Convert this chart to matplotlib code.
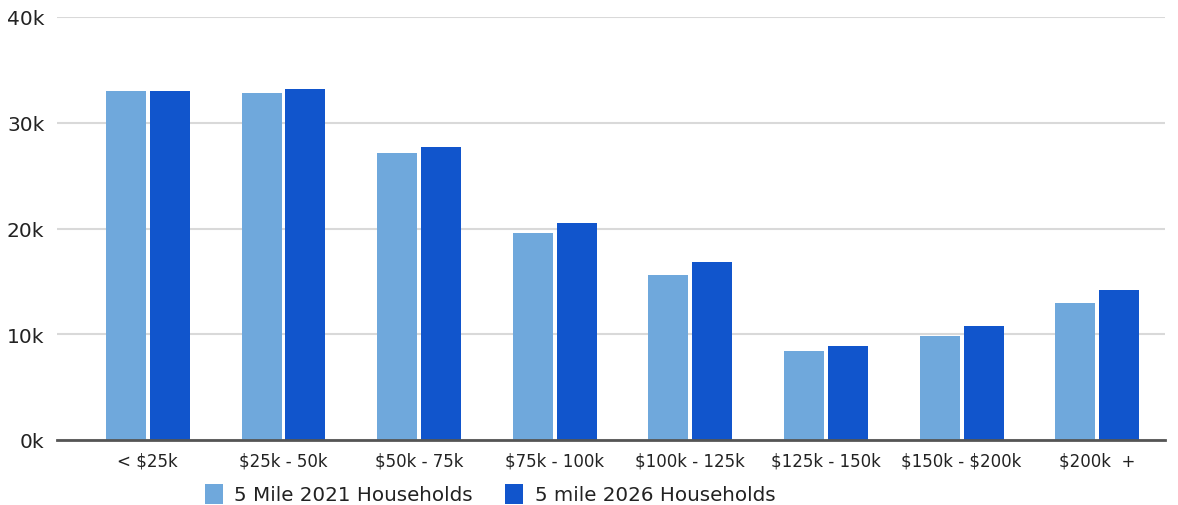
import matplotlib
matplotlib.use("Agg")
import matplotlib.pyplot as plt
import numpy as np

plt.rcParams["text.parse_math"] = False

categories = ["< $25k", "$25k - 50k", "$50k - 75k", "$75k - 100k",
              "$100k - 125k", "$125k - 150k", "$150k - $200k", "$200k  +"]
hh_2021 = [33000, 32800, 27100, 19600, 15600, 8400, 9800, 13000]
hh_2026 = [33000, 33200, 27700, 20500, 16800, 8900, 10800, 14200]
series_names = ["5 Mile 2021 Households", "5 mile 2026 Households"]
yticks = [0, 10000, 20000, 30000, 40000]
ytick_labels = ["0k", "10k", "20k", "30k", "40k"]

c_light = "#6FA8DC"
c_dark = "#1155CC"

fig = plt.figure(figsize=(11.78, 5.06), dpi=100)
ax = fig.add_axes([57/1178, 65/506, (1165-57)/1178, (441-18)/506])

x = np.arange(len(categories))
w = 0.295
off = 0.162
b1 = ax.bar(x - off, hh_2021, width=w, color=c_light, label=series_names[0], zorder=3)
b2 = ax.bar(x + off, hh_2026, width=w, color=c_dark, label=series_names[1], zorder=3)

ax.set_xlim(-0.67, 7.5)
ax.set_ylim(0, 40000)
ax.set_yticks(yticks)
ax.set_yticklabels(ytick_labels, fontsize=14.5, color="#222222")
ax.set_xticks(x)
ax.set_xticklabels(categories, fontsize=12, color="#222222")
ax.tick_params(axis="both", length=0)
ax.tick_params(axis="y", pad=9)
ax.tick_params(axis="x", pad=8)

ax.grid(axis="y", color="#d9d9d9", linewidth=1.5, zorder=0)
ax.set_axisbelow(True)
for s in ["top", "right", "left"]:
    ax.spines[s].set_visible(False)
ax.spines["bottom"].set_color("#555555")
ax.spines["bottom"].set_linewidth(2)
ax.spines["bottom"].set_zorder(4)

fig.legend(handles=[b1, b2], labels=series_names, loc="center",
           bbox_to_anchor=(490/1178, 1 - 495/506), ncol=2, frameon=False,
           fontsize=14.3, handlelength=0.9, handleheight=1.2, columnspacing=1.6,
           handletextpad=0.6, labelcolor="#222222")

fig.savefig("out.png", dpi=100, facecolor="white")
